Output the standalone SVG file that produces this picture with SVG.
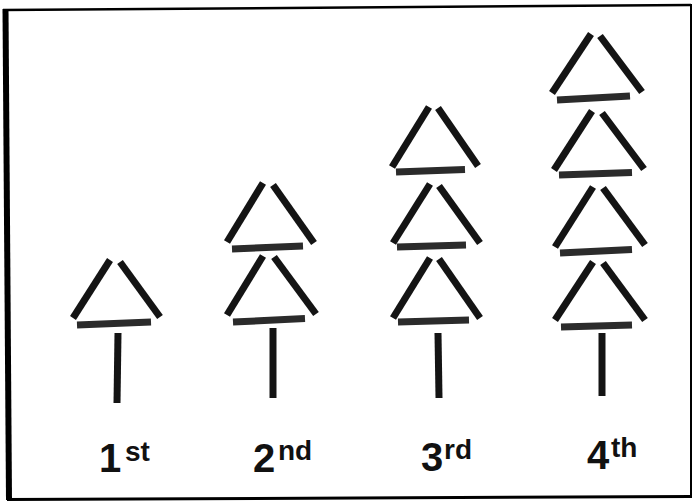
<svg xmlns="http://www.w3.org/2000/svg" width="693" height="501" viewBox="0 0 693 501">
<style>
.s{stroke:#141414;stroke-width:7;stroke-linecap:butt;fill:none}
.b{stroke:#2b2b2b;stroke-width:7;stroke-linecap:butt;fill:none}
.fr{stroke:#000;fill:none}
.d{font-family:"Liberation Sans",Arial,sans-serif;font-weight:bold;font-size:40px;fill:#111}
.u{font-family:"Liberation Sans",Arial,sans-serif;font-weight:bold;font-size:28px;fill:#111}
</style>
<rect width="693" height="501" fill="#fff"/>
<g id="frame">
<line class="fr" x1="5.5" y1="9" x2="9" y2="500" stroke-width="6"/>
<line class="fr" x1="3" y1="10" x2="691" y2="5" stroke-width="2.5"/>
<line class="fr" x1="691" y1="4" x2="691" y2="497" stroke-width="2"/>
<line class="fr" x1="7" y1="499.5" x2="692" y2="496.5" stroke-width="3"/>
</g>
<g id="fig1">
<line class="s" x1="73" y1="318" x2="110" y2="260"/>
<line class="s" x1="120" y1="262" x2="160" y2="317"/>
<line class="b" x1="77" y1="325" x2="151" y2="322"/>
<line class="s" x1="118" y1="333" x2="117" y2="403"/>
</g>
<g id="fig2">
<line class="s" x1="227" y1="242" x2="263" y2="183"/>
<line class="s" x1="273" y1="185" x2="314" y2="243"/>
<line class="b" x1="232" y1="249" x2="303" y2="246"/>
<line class="s" x1="227" y1="315" x2="263" y2="256"/>
<line class="s" x1="274" y1="257" x2="316" y2="314"/>
<line class="b" x1="233" y1="322" x2="305" y2="318.5"/>
<line class="s" x1="273" y1="328" x2="273" y2="398"/>
</g>
<g id="fig3">
<line class="s" x1="392" y1="167" x2="429" y2="107"/>
<line class="s" x1="438" y1="108" x2="478" y2="166"/>
<line class="b" x1="396" y1="172" x2="465" y2="169.5"/>
<line class="s" x1="393" y1="243" x2="430" y2="184"/>
<line class="s" x1="439" y1="186" x2="480" y2="243"/>
<line class="b" x1="397" y1="247" x2="466" y2="245"/>
<line class="s" x1="393" y1="318" x2="430" y2="258"/>
<line class="s" x1="439" y1="259" x2="480" y2="318"/>
<line class="b" x1="398" y1="322" x2="469" y2="320"/>
<line class="s" x1="438" y1="333" x2="439" y2="398"/>
</g>
<g id="fig4">
<line class="s" x1="552" y1="93" x2="591" y2="34"/>
<line class="s" x1="600" y1="36" x2="642" y2="92"/>
<line class="b" x1="557" y1="100" x2="630" y2="96"/>
<line class="s" x1="554" y1="170" x2="592" y2="111"/>
<line class="s" x1="602" y1="113" x2="644" y2="169"/>
<line class="b" x1="559" y1="175" x2="632" y2="172.5"/>
<line class="s" x1="555" y1="247" x2="593" y2="187"/>
<line class="s" x1="603" y1="188" x2="645" y2="245"/>
<line class="b" x1="560" y1="253" x2="632" y2="249.5"/>
<line class="s" x1="555" y1="320" x2="593" y2="262"/>
<line class="s" x1="603" y1="263" x2="645" y2="320"/>
<line class="b" x1="561" y1="327" x2="632" y2="325"/>
<line class="s" x1="602" y1="333" x2="602" y2="396"/>
</g>
<g id="labels">
<text class="d" x="99" y="472">1</text><text class="u" x="125" y="461">st</text>
<text class="d" x="253" y="472">2</text><text class="u" x="278" y="460">nd</text>
<text class="d" x="421" y="471">3</text><text class="u" x="444" y="459">rd</text>
<text class="d" x="587" y="469">4</text><text class="u" x="611" y="457">th</text>
</g>
</svg>
